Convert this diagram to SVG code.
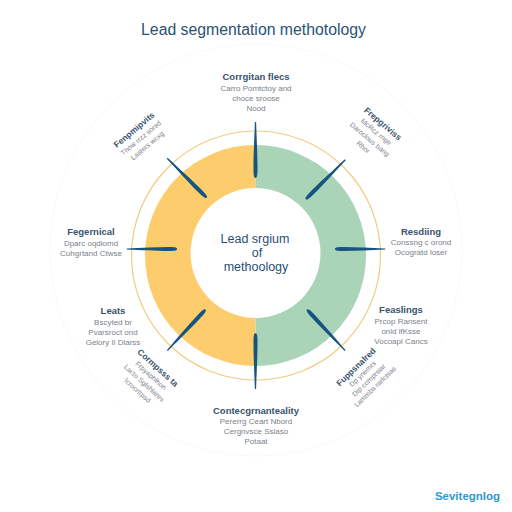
<svg xmlns="http://www.w3.org/2000/svg" width="512" height="512" viewBox="0 0 512 512">
<style>
text{font-family:"Liberation Sans",Arial,sans-serif;text-anchor:middle}
.h{font-size:9.500px;font-weight:700;fill:#38536d}
.b{font-size:8px;fill:#7b8189}
.rh{font-size:8.500px;font-weight:700;fill:#38536d}
.rb{font-size:7px;fill:#7b8189}
.c{font-size:12.500px;fill:#1f4f78}
.s{fill:#17547f}
</style>
<defs><path id="spoke" class="s" d="M-.6,-28 L.6,-28 C1.200,-10 2.200,8 2,22 Q1.800,28 0,28 Q-1.800,28 -2,22 C-2.200,8 -1.200,-10 -.6,-28Z"/></defs>
<rect width="512" height="512" fill="#fff"/>
<circle cx="256" cy="250" r="206" fill="none" stroke="#f9fafa" stroke-width="1.200"/>
<text id="title" x="253.500" y="35" style="font-size:15.800px;fill:#2a5273">Lead segmentation methotology</text>
<g id="ring">
<path d="M255.500,145A110.500,110.500 0 0 0 255.500,366Z" fill="#fdcd6d"/>
<path d="M255.500,145A110.500,110.500 0 0 1 255.500,366Z" fill="#a9d4b8"/>
<circle cx="256" cy="255.500" r="124.500" fill="none" stroke="#f2cb85" stroke-width="1.200"/>
</g>
<g id="center">
<circle cx="255.500" cy="253" r="65" fill="#fff"/>
<text class="c" x="255" y="243">Lead srgium</text>
<text class="c" x="257" y="257">of</text>
<text class="c" x="256" y="271">methoology</text>
</g>
<g id="connectors">
<use href="#spoke" transform="translate(255.500,150)"/>
<use href="#spoke" transform="translate(325.500,179.500) rotate(45)"/>
<use href="#spoke" transform="translate(360,249) rotate(90) scale(1,.9)"/>
<use href="#spoke" transform="translate(326,330) rotate(137)"/>
<use href="#spoke" transform="translate(255.500,361) rotate(180)"/>
<use href="#spoke" transform="translate(186.500,330) rotate(223)"/>
<use href="#spoke" transform="translate(152,249) rotate(270) scale(1,.9)"/>
<use href="#spoke" transform="translate(187,178) rotate(315)"/>
</g>
<g id="node-top">
<text class="h" x="256" y="80">Corrgitan flecs</text>
<text class="b" x="256" y="91">Carro Pomtctoy and</text>
<text class="b" x="256" y="101">choce sroose</text>
<text class="b" x="256" y="111">Nood</text>
</g>
<g id="node-ne" transform="translate(381,126) rotate(40)">
<text class="rh" x="0" y="0">Frepgriviss</text>
<text class="rb" x="0" y="10">McRcz rnge</text>
<text class="rb" x="0" y="20">Daroclous bang</text>
<text class="rb" x="0" y="30">Rhor</text>
</g>
<g id="node-right">
<text class="h" x="421" y="235">Resdiing</text>
<text class="b" x="421" y="245">Conssng c orond</text>
<text class="b" x="421" y="255">Ocogratd loser</text>
</g>
<g id="node-se-upper">
<text class="h" x="401" y="313">Feaslings</text>
<text class="b" x="401" y="324">Prcop Ransent</text>
<text class="b" x="401" y="334">onld lfKsse</text>
<text class="b" x="401" y="344">Vocoapl Cancs</text>
</g>
<g id="node-se" transform="translate(358,369) rotate(-44)">
<text class="rh" x="0" y="0">Fuppsnalred</text>
<text class="rb" x="0" y="9">Dp ynemrs</text>
<text class="rb" x="0" y="18">Dip comprsiar</text>
<text class="rb" x="0" y="27">Lammbs rarlctsas</text>
</g>
<g id="node-bottom">
<text class="h" x="256" y="414">Contecgrnanteality</text>
<text class="b" x="256" y="424">Pererrg Ceart Nbord</text>
<text class="b" x="256" y="434">Cergnvsce Ssiaso</text>
<text class="b" x="256" y="444">Potaat</text>
</g>
<g id="node-sw" transform="translate(156,370) rotate(42)">
<text class="rh" x="0" y="0">Cormpsss ta</text>
<text class="rb" x="0" y="10">Frpyaphlhon</text>
<text class="rb" x="0" y="20">Lacto Sglshlares</text>
<text class="rb" x="0" y="30">Icrocrttpsd</text>
</g>
<g id="node-left-lower">
<text class="h" x="113" y="314">Leats</text>
<text class="b" x="113" y="325">Bscyted br</text>
<text class="b" x="113" y="335">Pvarsroct ond</text>
<text class="b" x="113" y="345">Gelory Il Dlarss</text>
</g>
<g id="node-left">
<text class="h" x="91" y="235">Fegernical</text>
<text class="b" x="91" y="246">Dparc oqdiomd</text>
<text class="b" x="91" y="256">Cuhgrtand Ctwse</text>
</g>
<g id="node-nw" transform="translate(136,132) rotate(-40)">
<text class="rh" x="0" y="0">Fenpmipvits</text>
<text class="rb" x="0" y="10">Thow rrzz sorsd</text>
<text class="rb" x="0" y="20">Lasters wcxg</text>
</g>
<text id="brand" x="467.500" y="500" style="font-size:11.500px;font-weight:700;fill:#2a9ad0">Sevitegnlog</text>
</svg>
